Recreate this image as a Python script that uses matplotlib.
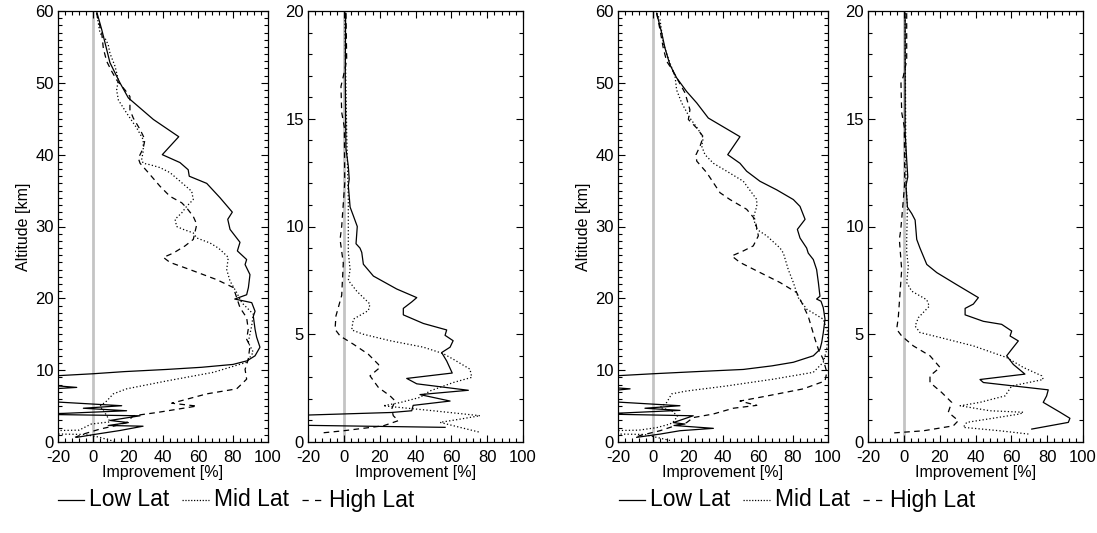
import matplotlib
matplotlib.use("Agg")
import matplotlib.pyplot as plt
from matplotlib.lines import Line2D
from matplotlib.ticker import MultipleLocator

plt.rcParams['font.family'] = ['Liberation Sans', 'DejaVu Sans']
plt.rcParams['axes.unicode_minus'] = False

# ---------------- data ----------------
# Group A, 0-60 km panel
a_full_low_alt = [60, 57.4, 52.8, 50, 47.9, 44.9, 42.5, 40, 38.9, 37.9, 37, 36, 34, 32, 31, 29.6, 27.8,
                  26.6, 25.4, 24.7, 23.3, 21.5, 20.5, 19.9, 19.4, 18.2, 17.5, 15.7, 14.6, 13.2, 12.0,
                  11.3, 10.8, 10.4, 10.1, 9.8, 9.5, 9.1, 8.0, 7.6, 7.3, 5.7, 5.05, 4.7, 4.35, 3.85,
                  3.65, 3.0, 2.7, 2.3, 2.2, 1.6, 1.1, 0.65]
a_full_low_val = [2, 5, 9.7, 15.4, 20.2, 34.5, 49, 39.6, 49.7, 54.4, 55, 65, 72.6, 79.6, 77, 78.3, 84,
                  82.5, 87.8, 86.9, 89.7, 88.8, 87.8, 81, 90.7, 92.6, 91.6, 92.6, 93.5, 95.4, 92.6,
                  88, 80, 62, 42, 18, 0, -30, -30, -9.3, -30, -30, 16.4, -5.5, 19.2, -30,
                  26.9, 9.7, 20.2, 8.7, 28.6, 15.4, 2.1, -9.3]

a_full_mid_alt = [59.7, 56.9, 56.2, 55.3, 54.1, 52.3, 50.4, 49, 47.6, 45.8, 43.7, 42.1, 40.5, 39.3, 38.8,
                  38.6, 38.2, 37.5, 36.1, 34.9, 33.75, 32.8, 31.9, 31, 30, 29.6, 29.1, 28.4, 27.7, 27,
                  26.6, 25.7, 24, 22.4, 20.8, 19.4, 17.8, 16.2, 13.85, 12.5, 11.1, 9.7, 8.5, 7.4, 6.7,
                  5.7, 5.0, 3.7, 2.8, 2.5, 1.65, 1.55, 1.15, 1.05, 0.7, 0.1]
a_full_mid_val = [2.1, 4, 6.9, 8.7, 9.7, 12.6, 14.5, 13.5, 14.5, 19.2, 25, 28.7, 28.7, 27.8, 28.7,
                  32.6, 38.3, 44, 50.7, 56.4, 57.3, 53.5, 50.7, 46.9, 47.8, 51.6, 57.3, 59.3, 66.9, 71.6,
                  73.5, 77.3, 76.4, 78.3, 82.1, 85, 91.6, 90.7, 88.7, 91.6, 87.8, 68.8, 42.1, 19.2, 11.6,
                  7.8, 4, 7.8, 9.7, -1, -8, -30, -30, -5, 3, 12]

a_full_high_alt = [59.7, 56.9, 54.8, 53, 51.6, 50.4, 49, 48.1, 46.25, 45.1, 43.5, 42.1, 40.9, 39.5, 38.8,
                   37.5, 35.6, 34.2, 33.3, 32.6, 31.4, 30.3, 28.2, 27.3, 26.3, 25.7, 25, 24, 22.6, 21.5,
                   20.1, 18.7, 17.3, 15.7, 14.3, 13.4, 11.5, 10.1, 8.75, 7.4, 6.7, 5.7, 5.4, 5.0, 4.1,
                   3.65, 2.7, 2.26, 1.8, 1.1, 0.65]
a_full_high_val = [2, 5, 5.9, 7.8, 10.7, 13.5, 18.3, 21.1, 21.1, 23, 26.9, 29.7, 28.7, 25.9, 26.9,
                   31.6, 38.3, 44, 50.7, 53.5, 57.3, 59.3, 57.3, 52.6, 45.9, 40.2, 44, 55.4, 70.7, 80.2,
                   82.1, 84, 87.8, 88.7, 87.8, 89.7, 88.7, 86.9, 87.8, 82.1, 65, 49.7, 45, 59.3, 36.4,
                   23, 19.2, 12.6, 4, -5.5, -10.3]

# Group A, 0-20 km panel
a_trop_low_alt = [19.9, 17, 15, 13.6, 12.8, 12.2, 11.9, 10.9, 10.5, 10.0, 9.2, 9.0, 8.8, 8.25, 7.7, 7.1,
                  6.7, 6.5, 6.2, 5.9, 5.5, 5.2, 4.95, 4.7, 4.4, 4.15, 3.76, 3.2, 2.95, 2.7, 2.4, 2.2,
                  1.9, 1.7, 1.45, 1.37, 1.15, 0.82, 0.68]
a_trop_low_val = [1, 0.8, 1, 1.2, 2.5, 3, 2.5, 3.5, 5.3, 7.5, 6.8, 9, 10, 10.9, 16.5, 29.5,
                  40.7, 37.9, 33.2, 33.2, 44.4, 57.4, 56.5, 61, 59.3, 54.6, 57.4, 60.5, 35.1, 40.7, 69.5, 42.5,
                  59.3, 38.7, 37.9, 26.7, -60, -60, 56.5]

a_trop_mid_alt = [19.9, 14.3, 11.25, 10.3, 9.0, 8.8, 8.0, 7.5, 7.0, 6.4, 6.1, 5.7, 5.2, 5.0, 4.7, 4.4,
                  4.1, 3.84, 3.38, 3.0, 2.76, 2.37, 2.07, 1.83, 1.68, 1.6, 1.45, 1.22, 1.06, 0.91, 0.68, 0.45]
a_trop_mid_val = [0.5, 1.6, 2.5, 2.5, 2.5, 2.5, 3.5, 2.5, 7.2, 14.6, 13.7, 5.3, 4.4, 10.9, 25.8, 44.4,
                  55.5, 61.1, 70.4, 71.4, 61.1, 48.1, 42.5, 31.4, 22, 31.4, 49.9, 76, 64.8, 53.7, 64.8, 76]

a_trop_high_alt = [19.9, 17.7, 16.96, 16.5, 15.3, 14.6, 12, 10.0, 9.4, 8.3, 6.8, 5.85, 5.23, 4.92, 4.54,
                   4.07, 3.6, 3.46, 3.07, 2.53, 2.14, 1.91, 1.53, 1.22, 0.99, 0.75, 0.52, 0.42]
a_trop_high_val = [1.2, 1.6, -0.3, -1.6, -1.2, 0.3, 0.5, -1.2, -2.1, -0.3, -1.2, -4.4, -4.9, -2.1, 5.3,
                   13.7, 19.3, 20.2, 14.6, 19.3, 25.8, 28.6, 26.7, 27.6, 30.4, 22, -0.3, -12.4]

# Group B, 0-60 km panel
b_full_low_alt = [59.7, 56.9, 54.8, 52.5, 50.7, 48.8, 47.2, 45.1, 42.5, 40, 38.8, 37.7, 36.3, 35.1, 33.75,
                  32.8, 31, 29.6, 28.4, 27, 26.3, 25.4, 24, 22.2, 20.3, 19.9, 19.6, 18.7, 17.1, 15.2, 13.85,
                  12.9, 12, 11.1, 10.6, 10.1, 9.8, 9.5, 9.1, 7.7, 7.4, 7.0, 5.7, 5.05, 4.7, 4.4, 3.9,
                  3.65, 2.7, 2.5, 2.3, 1.9, 1.57, 1.1, 0.65]
b_full_low_val = [2.1, 5, 6.9, 9.7, 13.5, 19.2, 25, 31.6, 49.7, 42.7, 49.7, 53.5, 61.1, 70.7, 80.2,
                  84, 86.9, 82.5, 84, 87.8, 88.7, 91.6, 93.5, 94.5, 95.4, 93.5, 96, 97.3, 98.3, 97.3, 96.4,
                  95.4, 91.6, 80.2, 68, 51.6, 25, 0, -30, -30, -13.1, -30, -30, 15.4, -4.6, 15.4, -30,
                  23, 11.6, 18.3, 12, 34.5, 15.4, 4, -9.3]

b_full_mid_alt = [59.7, 58.8, 55.5, 53.4, 50.9, 49, 47.2, 45.1, 43.5, 42.3, 41.2, 40, 38.8, 37.7, 36.3,
                  33.75, 32.8, 31.2, 29.6, 28.7, 27, 26.3, 24, 22.2, 20.1, 18.5, 17.1, 15.2, 12.9, 11.1,
                  9.7, 8.75, 7.8, 7.1, 6.7, 5.5, 4.8, 4.35, 3.6, 2.9, 2.5, 2.0, 1.65, 1.55, 1.15, 1.05, 0.2]
b_full_mid_val = [2.1, 4, 5.9, 8.7, 12.6, 13.5, 16.4, 21.1, 25.9, 28.7, 27.8, 29.7, 34.5, 42.1, 51.6,
                  59.3, 59.3, 57.3, 59.3, 65, 72.6, 74.5, 77.3, 80.2, 83, 87.8, 97.3, 100, 99.3, 97.3,
                  91.6, 68.8, 42.1, 19.2, 10.7, 7.8, 4, 10.7, 14, 12, 9.7, 2.1, -8, -30, -30, -5, 10]

b_full_high_alt = [59.7, 57.4, 54.8, 53, 52.3, 51.1, 48.6, 46.25, 44.9, 43.7, 42.5, 41.2, 40, 39.1, 37.5,
                   34.7, 33.75, 32.4, 31, 28.7, 27.3, 26.6, 25.9, 25, 23.6, 22.2, 20.8, 19.4, 17.5, 14.3,
                   12.9, 11.5, 9.7, 8.5, 7.4, 6.4, 5.7, 5.1, 4.7, 3.9, 3.4, 2.7, 2.26, 1.57, 0.9, 0.65]
b_full_high_val = [2.1, 4, 5.9, 7.8, 9.7, 12.6, 18.3, 21.1, 20.2, 25, 28.7, 26.9, 24.6, 25, 30.7,
                   38.3, 44, 53.5, 58.3, 60.2, 57.3, 51.6, 45, 49.7, 61.1, 72.6, 82.1, 85, 88.7, 92.6,
                   94.5, 97.3, 99.3, 98.3, 85.9, 65, 49.7, 59.3, 45.9, 34.5, 23, 19.2, 12.6, 4, -7.4, -10]

# Group B, 0-20 km panel
b_trop_low_alt = [19.9, 14.4, 13.1, 12.3, 11.9, 10.9, 10.6, 10.3, 9.4, 9.0, 8.8, 8.24, 7.86, 7.3, 6.7,
                  6.4, 6.2, 5.9, 5.6, 5.46, 5.15, 4.92, 4.69, 4.3, 4.0, 3.6, 3.15, 2.9, 2.76, 2.42,
                  2.14, 1.84, 1.38, 1.1, 0.91, 0.6]
b_trop_low_val = [0.7, 0.7, 1.6, 2.2, 1.2, 2, 4.4, 6.3, 7.2, 9, 10, 12.8, 18.4, 29.5, 41.6,
                  38.8, 34.2, 34.2, 44.4, 54.6, 60.2, 59.3, 63.9, 60.2, 57.4, 61.1, 67.6, 42.5, 44.4, 80.6,
                  79.7, 77.8, 87.2, 92.7, 91.8, 71.4]

b_trop_mid_alt = [19.9, 12.0, 10.9, 9.4, 8.8, 8.16, 7.4, 7.0, 6.6, 6.3, 5.77, 5.38, 5.08, 4.85, 4.46,
                  3.92, 3.46, 3.07, 2.9, 2.6, 2.14, 1.84, 1.68, 1.45, 1.38, 1.3, 0.91, 0.68, 0.52, 0.37]
b_trop_mid_val = [0.7, 1.2, 2, 1.6, 1.6, 2.5, 1.6, 4.4, 12.8, 14.2, 8.1, 6.3, 9, 20.2, 38.8,
                  57.4, 66.7, 77, 77.8, 60.2, 56.5, 42.5, 31.4, 48.1, 66.7, 64.8, 35.1, 33.2, 53.7, 69.5]

b_trop_high_alt = [19.9, 17.7, 16.96, 16.65, 15.3, 14.6, 12, 9.86, 9.4, 8.0, 5.77, 5.23, 4.92, 4.46,
                   4.0, 3.46, 3.07, 2.76, 2.3, 1.84, 1.38, 0.99, 0.75, 0.52, 0.42]
b_trop_high_val = [1.6, 1.6, -0.3, -1.6, -1.2, 0.3, 0.5, -1.7, -2.5, -1.2, -3.1, -4, -1.2, 5.3,
                   14.6, 20.2, 14.6, 14.6, 21.1, 26.7, 24.8, 30.4, 27.6, 10.9, -5.9]

series_names = ["Low Lat", "Mid Lat", "High Lat"]
x_ticks = [-20, 0, 20, 40, 60, 80, 100]

# ---------------- styling ----------------
W, H = 1097, 533
fig = plt.figure(figsize=(W / 100, H / 100), dpi=100)

styles = [dict(color='black', lw=0.9, ls='-'),
          dict(color='black', lw=0.9, ls=(0, (1, 1.8))),
          dict(color='black', lw=0.9, ls=(0, (4.5, 3.5)))]

def px_axes(left, right, top, bottom):
    return fig.add_axes([left / W, (H - bottom) / H, (right - left) / W, (bottom - top) / H])

def style_axes(ax, ytop, ymaj, ymin, ylabel=None):
    ax.set_xlim(-20, 100)
    ax.set_ylim(0, ytop)
    ax.set_xticks(x_ticks)
    ax.xaxis.set_minor_locator(MultipleLocator(4))
    ax.yaxis.set_major_locator(MultipleLocator(ymaj))
    ax.yaxis.set_minor_locator(MultipleLocator(ymin))
    ax.tick_params(which='both', direction='in', top=True, right=True, width=0.8, labelsize=12,
                   colors='black')
    ax.tick_params(which='major', length=5)
    ax.tick_params(which='minor', length=2.6)
    ax.tick_params(axis='x', which='major', pad=6)
    ax.tick_params(axis='y', which='major', pad=3)
    for s in ax.spines.values():
        s.set_linewidth(0.9)
    ax.set_xlabel("Improvement [%]", fontsize=11.5, labelpad=0)
    if ylabel:
        ax.set_ylabel(ylabel, fontsize=11.5, labelpad=3)
    ax.axvline(0, color='#c4c4c4', lw=2.0, zorder=1)

def draw(ax, data):
    for (vals, alts), st in zip(data, styles):
        ax.plot(vals, alts, zorder=3, **st)

panels = [
    ((58, 268, 11, 442), 60, 10, 1, "Altitude [km]",
     [(a_full_low_val, a_full_low_alt), (a_full_mid_val, a_full_mid_alt), (a_full_high_val, a_full_high_alt)]),
    ((308, 523, 11, 442), 20, 5, 1, None,
     [(a_trop_low_val, a_trop_low_alt), (a_trop_mid_val, a_trop_mid_alt), (a_trop_high_val, a_trop_high_alt)]),
    ((618, 828, 11, 442), 60, 10, 1, "Altitude [km]",
     [(b_full_low_val, b_full_low_alt), (b_full_mid_val, b_full_mid_alt), (b_full_high_val, b_full_high_alt)]),
    ((868, 1083, 11, 442), 20, 5, 1, None,
     [(b_trop_low_val, b_trop_low_alt), (b_trop_mid_val, b_trop_mid_alt), (b_trop_high_val, b_trop_high_alt)]),
]

for box, ytop, ymaj, ymin, ylab, data in panels:
    ax = px_axes(*box)
    style_axes(ax, ytop, ymaj, ymin, ylab)
    draw(ax, data)

# ---------------- legends ----------------
renderer = fig.canvas.get_renderer()

def legend_row(x0, y):
    yf = (H - y) / H
    items = [(0, 26, styles[0]),
             (1, 27, dict(color='black', lw=0.9, ls=(0, (1, 1.3)))),
             (2, 22, dict(color='black', lw=0.9, ls=(0, (5, 5))))]
    x = x0
    for idx, hl, st in items:
        fig.add_artist(Line2D([x / W, (x + hl) / W], [yf, yf], transform=fig.transFigure, **st))
        x = x + hl + 5
        t = fig.text(x / W, yf, series_names[idx], fontsize=16.5, va='center', ha='left')
        bb = t.get_window_extent(renderer=renderer)
        x = x + bb.width + 13

legend_row(58, 500)
legend_row(619, 500)

fig.savefig("out.png", dpi=100)
